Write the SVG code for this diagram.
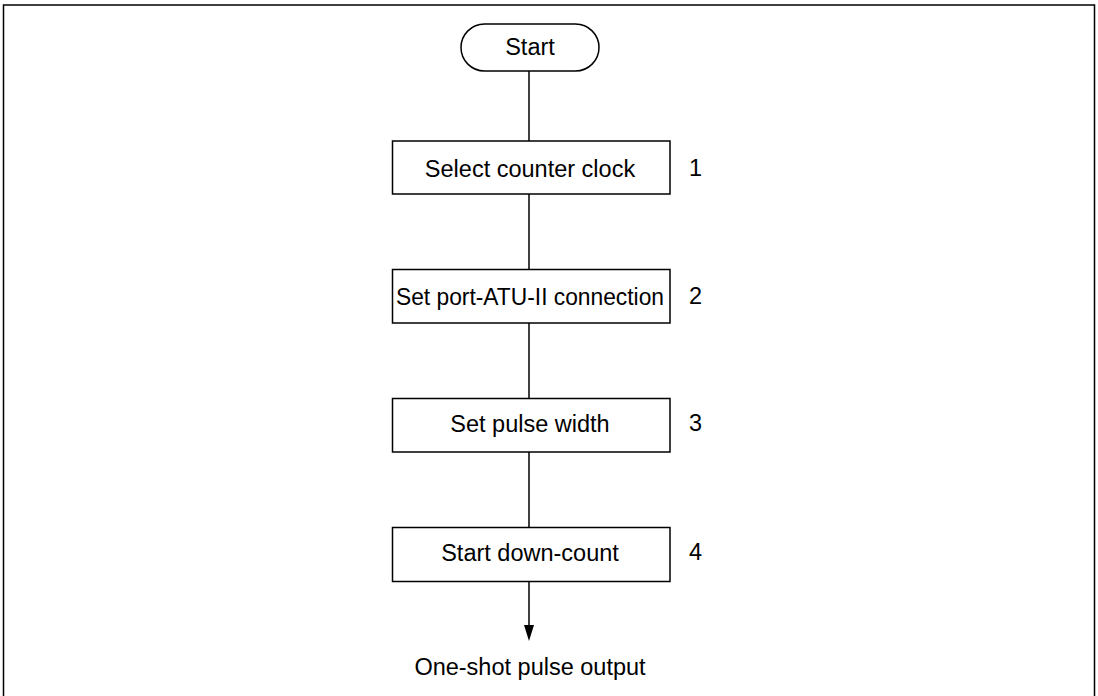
<svg xmlns="http://www.w3.org/2000/svg" width="1098" height="696" viewBox="0 0 1098 696">
<style>
.box{fill:#fff;stroke:#000;stroke-width:1.5}
.t{font-family:"Liberation Sans",Arial,sans-serif;font-size:23.5px;fill:#000}
.c{text-anchor:middle}
.ln{stroke:#000;stroke-width:1.5;fill:none}
</style>
<defs>
<marker id="arr" markerWidth="10" markerHeight="16" refX="5" refY="16" orient="auto-start-reverse" markerUnits="userSpaceOnUse" viewBox="0 0 10 16">
<path d="M0,0 L10,0 L5,16 Z" fill="#000"/>
</marker>
</defs>
<rect width="1098" height="696" fill="#fff"/>
<rect x="3.5" y="5" width="1091" height="700" fill="none" stroke="#000" stroke-width="1.5"/>
<g id="connectors">
<line class="ln" x1="529" y1="71" x2="529" y2="141"/>
<line class="ln" x1="529" y1="194" x2="529" y2="269"/>
<line class="ln" x1="529" y1="323" x2="529" y2="398"/>
<line class="ln" x1="529" y1="452" x2="529" y2="527"/>
<path class="ln" d="M529,582 V625"/>
<path d="M524,625 L534,625 L529,641 Z" fill="#000"/>
</g>
<g id="start">
<rect class="box" x="461" y="24" width="138" height="47" rx="23.5"/>
<text class="t c" x="530" y="55">Start</text>
</g>
<g id="step1">
<rect class="box" x="392.5" y="141" width="277.5" height="53"/>
<text class="t c" x="530" y="177">Select counter clock</text>
<text class="t" x="689" y="176">1</text>
</g>
<g id="step2">
<rect class="box" x="392.5" y="269.5" width="277.5" height="53.5"/>
<text class="t" x="396" y="305" textLength="268" lengthAdjust="spacingAndGlyphs">Set port-ATU-II connection</text>
<text class="t" x="689" y="304">2</text>
</g>
<g id="step3">
<rect class="box" x="392.5" y="398.5" width="277.5" height="53.5"/>
<text class="t c" x="530" y="432">Set pulse width</text>
<text class="t" x="689" y="431">3</text>
</g>
<g id="step4">
<rect class="box" x="392.5" y="527.5" width="277.5" height="54"/>
<text class="t c" x="530" y="561">Start down-count</text>
<text class="t" x="689" y="560">4</text>
</g>
<g id="output">
<text class="t c" x="530" y="675">One-shot pulse output</text>
</g>
</svg>
